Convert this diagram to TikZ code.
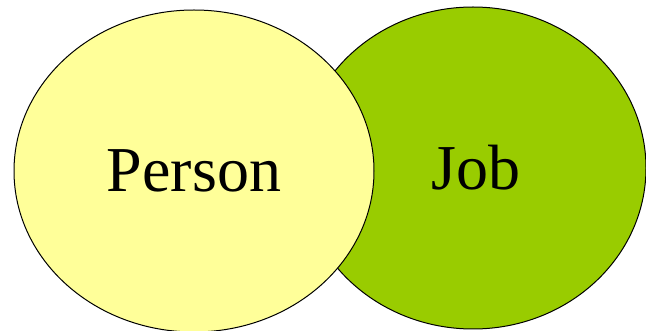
\documentclass[tikz,border=0pt]{standalone}
\usepackage{fontspec}
\setmainfont{Liberation Serif}
\usetikzlibrary{shapes.geometric}
\definecolor{pale}{RGB}{255,255,153}
\definecolor{lime}{RGB}{153,204,0}

\begin{document}
\begin{tikzpicture}[x=1pt,y=1pt,
    set/.style={ellipse,draw=black,line width=1pt,inner sep=0pt,font=\fontsize{64}{70}\selectfont}]
  \useasboundingbox (0,0) rectangle (646,-331);
  \node[set,fill=lime,minimum width=346,minimum height=322] (job) at (473,-168) {\hspace*{6pt}Job};
  \node[set,fill=pale,minimum width=360,minimum height=322] (person) at (194,-171) {Person};
\end{tikzpicture}
\end{document}
